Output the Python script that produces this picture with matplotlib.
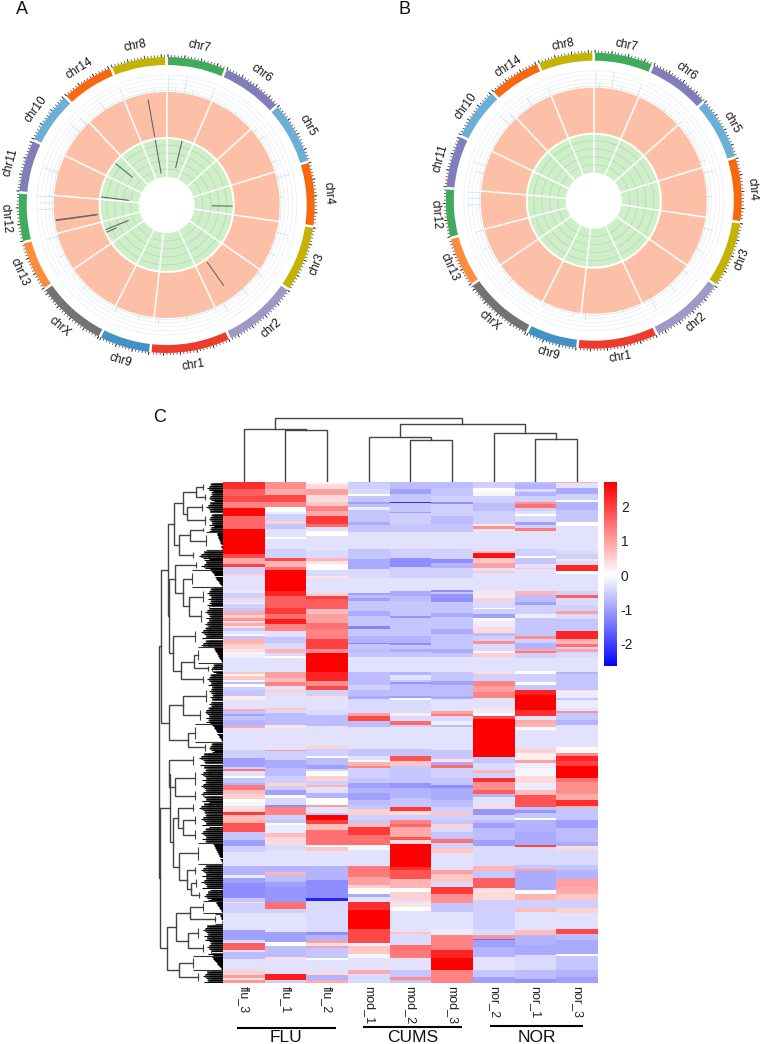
import numpy as np
import matplotlib
matplotlib.use("Agg")
import matplotlib.pyplot as plt

plt.rcParams['font.family'] = ['Liberation Sans', 'DejaVu Sans']

W, H = 760, 1044

# circos sectors, clockwise from the top
chr_names = ['chr7', 'chr6', 'chr5', 'chr4', 'chr3', 'chr2', 'chr1', 'chr9', 'chrX', 'chr13', 'chr12', 'chr11', 'chr10', 'chr14', 'chr8']
chr_spans = [23.5, 24.5, 25, 25.4, 26.3, 30, 31.7, 20.5, 28.5, 20, 19.5, 21, 21, 21, 22]
chr_colors = ['#41ab5d', '#807dba', '#6baed6', '#f8690f', '#c4b305', '#9e9ac8', '#ef3b2c', '#4292c6', '#737373',
              '#fd8d3c', '#41ab5d', '#807dba', '#6baed6', '#f8690f', '#c4b305']

# blue track spikes (angle, height)
spike_a_theta = [1, 9, 4.5, 22.6, 13, 350, 354, 338, 327, 310, 315, 287, 286, 274, 271, 274.5, 268, 254, 244, 225, 206, 194, 184, 170, 155, 150, 138, 127, 115, 104, 86, 76, 68, 55, 50, 37]
spike_a_h = [17, 17, 8, 13, 5, 3, 4, 13, 10, 12, 10, 15, 10, 17, 13, 7, 16, 12, 7, 8, 6, 6, 7, 4, 5, 10, 8, 8, 7, 12, 5, 15, 6, 8, 5, 4]
spike_b_theta = [1, 9, 3, 22.6, 14, 352, 338, 327, 312, 316, 288, 284, 274, 271, 268, 255, 246, 226, 206, 190, 184, 165, 150, 138, 128, 115, 104, 88, 76, 70, 55, 48, 38]
spike_b_h = [17, 17, 7, 13, 5, 4, 10, 10, 9, 8, 13, 9, 14, 12, 13, 10, 8, 6, 5, 4, 7, 3, 12, 9, 7, 6, 9, 5, 12, 7, 7, 6, 4]

# dark spikes on panel A
dark_theta = [350, 350, 262, 262.3, 144.7, 13.5, 309, 277, 91, 248, 245.6]
dark_low = [69, 32, 70, 70, 70, 38, 44, 38, 45, 41, 55]
dark_high = [107, 66, 112, 112, 99, 66, 66, 66, 66, 66, 66]

# heatmap runs (z score, run length), each column top to bottom
flu_3 = [(2.2,24),(1.7,20),(1.9,20),(1.3,18),(2.6,22),(1.6,40),(2.7,75),(1.9,10),(0.9,18),(2.0,9),(-0.5,23),(0.5,5),(-0.3,45),(0.3,5),(-0.5,15),(0.5,5),(-0.3,12),(0.2,3),(-0.5,10),(-0.6,10),(0.9,12),(0.5,9),(1.1,9),(0.4,6),(0.9,9),(0.3,5),(-0.6,10),(-0.3,10),(0.1,5),(-0.6,10),(0.8,15),(0.5,15),
         (0.3,10),(0,5),(-0.2,10),(-0.3,43),(0.6,4),(0.1,8),(0.6,10),(-0.1,7),(-0.7,6),(0,9),(-0.5,10),(-0.6,18),(0.2,10),(-0.3,28),(0.9,6),(-0.6,8),(-1,6),(-0.6,14),(-0.8,16),(0.9,7),(-0.3,65),(-0.5,25),(-1,27),(-0.5,6),(1.5,6),(-0.3,14),(0,7),(-0.6,15),(-0.8,5),(1.4,15),(0.7,12),(0.5,15),(0,8),(-0.1,12),(0.4,20),(2.1,8),(0.7,15),
         (0.8,10),(1.8,25),(-0.6,25),(-1,18),(-0.5,17),(-0.3,43),(-0.8,27),(-0.2,10),(-1,15),(-1.2,45),(-0.6,10),(0.4,5),(-0.5,30),(-0.3,50),(-1,28),(-0.4,10),(1.7,20),(-0.3,7),(-0.7,20),(-0.3,35),(0.5,15),(1,7),(0.3,8),(1.1,8)]
flu_1 = [(1.2,24),(0.9,18),(1.9,22),(1.3,14),(0,16),(-0.2,5),(-0.5,20),(0.5,10),(-0.6,15),(-0.3,25),(0,5),(-0.3,30),(-0.5,25),(1.9,10),(0.8,17),(1.5,10),(2.7,63),(2.3,15),(1.7,35),(2.1,20),(1.5,13),(2.4,17),(1.3,20),(-0.3,17),(-0.6,18),(-0.4,20),
         (0.8,10),(-0.4,10),(0,5),(-0.3,43),(1,17),(0.7,12),(1.3,13),(-0.3,10),(0.5,10),(-0.3,45),(0.6,5),(-0.4,10),(-0.7,35),(0.3,10),(-0.3,65),(1.1,5),(-0.5,25),(-0.9,25),(-0.7,25),(-0.5,20),(0.5,8),(-0.5,12),(-1,15),(0,10),(-0.4,20),(-1.2,7),(1.3,23),(-0.5,15),
         (-0.6,8),(0,6),(-0.2,26),(0.7,12),(0.4,23),(-0.4,15),(-0.3,48),(-0.8,17),(0.8,10),(-0.7,20),(-1,15),(-1.1,45),(1.5,23),(-0.5,12),(-0.3,55),(-1,30),(0,13),(-0.7,32),(0.4,5),(-0.3,45),(2.4,18),(-0.5,10)]
flu_2 = [(0.1,9),(0.4,15),(1.0,18),(0.4,20),(0.6,14),(1.3,13),(0.9,17),(2.1,23),(1.6,10),(-0.3,10),(0,15),(-0.3,45),(-0.4,20),(0.8,10),(0.3,10),(0,17),(-0.4,18),(0.3,5),(-0.3,45),(0.5,10),(2.0,10),(1.7,30),(0.7,15),(1.0,25),(1.5,20),(1.3,28),(2.0,32),
         (1.2,10),(2.7,58),(2.3,27),(1.2,15),(1.9,12),(-0.5,16),(0.4,8),(-0.3,34),(-0.4,15),(-0.7,35),(-0.3,60),(0.5,8),(-0.5,20),(0,8),(-0.7,19),(-1,13),(-0.5,7),(0,15),(0.5,15),(-0.5,10),(0.8,7),(-0.3,18),(-0.8,15),(0,20),(1,7),(-0.3,18),(-0.6,5),(2.7,15),
         (2,12),(0.7,18),(1.5,45),(-0.1,7),(0.6,10),(-0.3,46),(-0.8,42),(-1.2,55),(-2.3,8),(-0.4,92),(-1.2,10),(-0.8,13),(1,10),(-0.3,10),(1,4),(-0.6,30),(0,6),(-0.3,37),(0.4,10),(-0.8,13),(0.9,10)]
mod_1 = [(-0.6,6),(-0.5,18),(-0.4,15),(0,5),(-0.6,20),(-1,5),(-0.7,10),(-0.2,7),(-0.6,38),(-0.9,8),(-0.6,22),(-0.3,50),(-0.6,28),(-0.9,32),(-0.4,25),(-0.3,45),(-1,8),(-0.7,8),(-1,9),(-0.6,30),(-0.9,15),(-0.6,30),(-1.3,10),(-0.6,20),(-0.8,20),(-1.3,5),(-0.6,15),
         (-0.7,10),(-0.6,12),(-0.3,44),(-0.7,39),(-0.5,15),(-0.7,18),(-0.9,10),(-0.4,42),(1,8),(1.9,17),(-0.7,17),(-0.3,66),(-0.6,22),(-0.3,10),(0.1,8),(0.8,10),(1.3,7),(-0.5,30),(-0.6,15),(-1,15),(-0.8,15),(-1,20),(-0.7,15),(-0.6,13),(0.5,17),(-0.5,15),
         (-0.6,10),(0.7,12),(2.1,23),(1.5,30),(0.1,15),(-0.3,48),(1.4,32),(1,25),(0.5,10),(0,17),(-0.9,10),(-0.3,13),(2.2,25),(2.7,55),(1.9,43),(-0.2,10),(0.6,22),(-0.1,12),(-0.3,38),(0.9,10),(-0.4,28)]
mod_2 = [(-0.7,24),(-1,15),(-0.6,23),(-2.2,4),(-0.6,26),(-1,5),(-0.5,32),(-0.6,25),(-0.3,50),(-0.5,25),(-1.2,27),(-0.5,33),(-0.3,40),(-0.9,15),(-0.7,15),(-0.6,45),(-1.1,5),(-0.6,55),(-0.8,20),(-1.2,6),(-0.6,14),
         (-0.9,8),(-0.6,14),(-0.3,44),(-0.8,9),(-0.3,15),(-0.6,7),(-1.1,6),(-0.7,35),(-1,7),(0,5),(-0.4,40),(0.2,8),(-0.4,17),(1.6,10),(-0.5,7),(-0.3,66),(-0.6,22),(1.8,15),(0.6,15),(-0.6,50),(-1.1,15),(-0.8,30),(-0.6,27),(2.1,11),(0.4,12),(-0.5,15),
         (1.3,12),(1.6,10),(0.9,28),(1.8,10),(0.4,12),(2.7,68),(2.2,10),(1.8,28),(0.8,27),(0,10),(0.5,25),(-0.3,10),(0.3,12),(0,10),(-0.3,63),(0.6,7),(-0.4,33),(1.5,15),(1.4,22),(-0.3,36),(-0.6,22),(1.2,8),(-0.6,10)]
mod_3 = [(-0.7,22),(-0.6,24),(-0.5,16),(-1.2,8),(-0.5,34),(-0.7,25),(-0.6,25),(-0.3,50),(-0.5,28),(-1.2,12),(-0.8,15),(-0.5,30),(-0.3,37),(-1.2,6),(-0.6,7),(-1.1,10),(-1.2,13),(-0.6,32),(-0.9,12),(-0.6,38),(-0.9,15),(-0.6,45),
         (-0.9,10),(-0.6,12),(-0.3,44),(-0.6,29),(-1,10),(-0.7,35),(-0.9,8),(-0.3,37),(1,7),(1.4,8),(-0.4,15),(-0.2,10),(-0.7,7),(-0.3,68),(-0.6,28),(0.3,10),(-0.9,8),(1.6,9),(-0.5,30),(-0.6,20),(-1.2,10),(-0.9,35),(-0.7,20),(-0.5,15),(0.6,10),(-0.5,15),
         (-0.6,12),(0.5,8),(-0.4,15),(-0.6,23),(1.5,10),(-0.5,17),(0.6,13),(-0.3,52),(1,12),(0.6,23),(-0.4,15),(2.1,22),(1.2,26),(-0.6,27),(-0.3,50),(-0.2,20),(1.3,43),(2.3,24),(2.7,38),(1.3,38)]
nor_2 = [(-0.5,22),(0,10),(-0.1,12),(-0.5,22),(-0.7,23),(-0.5,40),(0.2,7),(1.2,8),(0.3,5),(-0.3,60),(0.7,7),(2.5,15),(0.6,13),(1,15),(-0.3,10),(0.6,5),(-0.3,55),(0.3,10),(-0.2,10),(0.5,10),(-0.4,20),(0,5),(-0.5,15),(-1,10),(0.1,10),(-0.2,17),(0.4,18),(-0.7,10),(-0.5,15),(1.2,10),(-0.4,15),
         (-0.4,6),(0.1,6),(0.5,10),(-0.3,44),(0.4,6),(-0.5,23),(1.3,15),(1,18),(1.3,17),(-0.3,30),(0.3,5),(-0.2,10),(0,10),(1.9,8),(2.7,114),(-0.6,18),(-0.4,22),(0.8,8),(-0.5,15),(2.2,13),(1.2,22),(1.7,12),(-0.8,10),(-0.3,23),(0.4,13),(-1.1,17),(-0.5,15),
         (-0.7,10),(-1,15),(-0.7,35),(-1,18),(-0.4,60),(0.8,14),(-0.6,23),(1.7,30),(0.3,10),(0.4,25),(-0.5,85),(-0.4,20),(1.1,10),(-1.5,3),(-1,22),(-0.8,30),(-0.3,40),(-0.6,20),(-1,18)]
nor_1 = [(-0.7,9),(-0.8,15),(-0.4,10),(-0.8,10),(-0.5,18),(1.1,7),(1.5,13),(-0.5,7),(-0.3,10),(0,7),(-0.4,18),(-1,8),(-0.5,8),(1.4,9),(-0.3,55),(-0.5,20),(0,5),(-0.6,20),(-0.3,10),(0.6,5),(-0.3,65),(0.8,13),(-0.7,20),(-1,10),(-0.5,27),(-0.2,10),(-0.6,55),(1.2,8),(-0.5,12),(-0.8,20),
         (0.9,6),(1.4,6),(-0.5,13),(-0.3,40),(0,7),(-0.5,26),(0,7),(-0.6,17),(2.3,13),(2.7,45),(2.2,20),(-0.3,12),(0.9,8),(0.8,12),(0,8),(-0.3,58),(0.5,12),(0.2,20),(1,10),(-0.2,15),(-0.1,23),(0.4,22),(-0.2,20),(0.7,15),(1.8,35),(-0.7,10),(-1.1,10),(-0.6,15),(0,5),
         (-0.8,35),(-0.9,40),(2,7),(-0.4,53),(-0.6,13),(1,4),(-0.9,58),(0,12),(0.8,18),(-0.5,25),(0.7,10),(-0.3,55),(0.7,15),(-0.8,30),(-0.9,30),(-0.4,45),(-0.7,25),(-1.1,13)]
nor_3 = [(0.8,6),(-0.3,16),(-0.9,17),(-0.5,17),(0,8),(-0.8,22),(-0.6,38),(0,12),(-0.3,73),(-0.4,10),(-0.5,13),(0.3,7),(-0.4,13),(2.3,17),(0,10),(-0.3,50),(-0.5,13),(1.7,7),(-0.4,23),(-0.5,17),(1,10),(-0.4,13),(-0.6,37),(2.3,23),(0.8,17),(1.5,7),(-0.5,8),
         (1,8),(-0.4,14),(-0.3,44),(-0.8,6),(-0.6,48),(0.4,5),(-0.2,20),(-0.6,5),(-0.2,25),(-0.3,10),(1.2,5),(-0.6,20),(-0.8,15),(-0.3,67),(0.1,18),(1.2,10),(2.3,15),(2,15),(2.7,35),(1.5,13),(1.2,34),(0.9,18),(2.2,18),(0.8,7),(-0.6,35),
         (-1,25),(-0.7,40),(-0.9,13),(0.4,12),(-0.4,45),(-0.6,15),(-0.8,28),(1,22),(0.9,22),(0.6,18),(-0.5,25),(0.5,13),(-0.3,47),(1.9,15),(-0.7,20),(-0.9,40),(0,8),(-0.6,42),(-0.8,20),(-1,18)]

samples = ['flu_3', 'flu_1', 'flu_2', 'mod_1', 'mod_2', 'mod_3', 'nor_2', 'nor_1', 'nor_3']
columns = [flu_3, flu_1, flu_2, mod_1, mod_2, mod_3, nor_2, nor_1, nor_3]
cbar_ticks = [2, 1, 0, -1, -2]

# column tree: [height, left, right], leaves index samples
col_tree = [63.7, [53, 0, [52, 1, 2]],
            [57.7, [45, 3, [41.7, 4, 5]], [48.7, 6, [43, 7, 8]]]]

# row tree: [depth, upper, lower]; (rows, depth) is a dense leaf block,
# (rows, depth, 'stair') a block of near identical rows
row_tree = [64,
    [62,
        [55,
            [49,
                [40, [27, (10, 20), (9, 18)], [36, (11, 21), (14, 18)]],
                [44, [33, (4, 20), (18, 17, 'stair')], (10, 30)]],
            [54,
                [48, (9, 27), [40, (17, 31, 'stair'), [34, (18, 20), (20, 22)]]],
                [50, (19, 28), [42, [29, (17, 25, 'stair'), (9, 15)], (12, 20)]]]],
        [54, [40, (20, 17), (17, 23)], [35, (18, 28, 'stair'), (10, 18)]]],
    [63,
        [53,
            [54, (15, 30), [48, (20, 28), (13, 28)]],
            [50,
                [45, (11, 30), [40, (13, 28), (15, 28)]],
                [44, (21, 25, 'stair'), [36, (12, 28), [32, (13, 27), (10, 24)]]]]],
        [56,
            [47, [33, (13, 20, 'stair'), (10, 8, 'stair')], [35, (17, 25), (13, 20)]],
            [44, (15, 30, 'stair'), (12, 25)]]]]

comb_pattern = [0.62, 0.8, 0.68, 0.9, 0.72, 1.0, 0.66, 0.85, 0.6, 0.78, 0.7, 0.95]


def px_axes(fig, x0, y0, x1, y1, **kw):
    # axes from pixel corners, y measured from the top of the picture
    return fig.add_axes([x0 / W, 1 - y1 / H, (x1 - x0) / W, (y1 - y0) / H], **kw)


def draw_circos(fig, cx, cy, spike_theta, spike_h, label_r, darks=None):
    rmax = 175
    ax = px_axes(fig, cx - rmax, cy - rmax, cx + rmax, cy + rmax, projection='polar')
    ax.set_theta_zero_location('N')
    ax.set_theta_direction(-1)
    ax.set_ylim(0, rmax)
    ax.axis('off')

    gap = 1.0
    start = 0
    for name, span, color in zip(chr_names, chr_spans, chr_colors):
        t0 = np.radians(start + gap / 2)
        t1 = np.radians(start + span - gap / 2)
        mid = (t0 + t1) / 2
        width = t1 - t0
        full = np.radians(span)
        mid_full = np.radians(start + span / 2)
        ax.bar(mid, 8, width=width, bottom=140, color=color, lw=0)
        ax.bar(mid_full, 45, width=full, bottom=68, color='#fdc0a6', lw=0)
        ax.bar(mid_full, 38, width=full, bottom=28, color='#cdefc6', lw=0)
        arc = np.linspace(t0, t1, 40)
        for r in [117.7, 121.7, 125.7, 130]:
            ax.plot(arc, np.full(40, r), color='#e6edf2', lw=0.5)
        for r in [76, 85, 94, 103]:
            ax.plot(arc, np.full(40, r), color='#efc0ac', lw=0.5)
        for r in [36, 44, 52, 60]:
            ax.plot(arc, np.full(40, r), color='#bdd3c6', lw=0.6)
        ax.plot(arc, np.full(40, 114.5), color='#d5e6f1', lw=0.5)

        ticks = np.arange(t0, t1, np.radians(1.3))
        ax.vlines(ticks, 148, 150, color='#333333', lw=0.5)
        ax.vlines(ticks[::5], 148, 151, color='#333333', lw=0.6)

        deg = start + span / 2
        rot = 180 - deg if 90 < deg < 270 else -deg
        ax.text(mid, label_r, name, fontsize=8.5, rotation=rot, rotation_mode='anchor',
                ha='center', va='center', color='#111111')
        # white divider of even width between the sectors
        ax.vlines(np.radians(start), 28, 114, color='white', lw=1.1)
        start += span

    ax.vlines(np.radians(spike_theta), 113, 113 + np.array(spike_h), color='#c3dcec', lw=0.45)
    if darks is not None:
        ax.vlines(np.radians(darks[0]), darks[1], darks[2], color='#666666', lw=0.8)
    return ax


def draw_col_tree(ax, node):
    if not isinstance(node, list):
        return node + 0.5, 0
    x0, h0 = draw_col_tree(ax, node[1])
    x1, h1 = draw_col_tree(ax, node[2])
    h = node[0]
    ax.plot([x0, x0, x1, x1], [h0, h, h, h1], color='#444444', lw=1.0, solid_joinstyle='miter')
    return (x0 + x1) / 2, h


def draw_row_leaf(ax, leaf, top):
    rows, depth = leaf[0], leaf[1]
    ys = top + np.arange(rows) + 0.5
    if len(leaf) == 3:
        lengths = 0.4 * depth * (1 - np.arange(rows) / rows)
        ax.hlines(ys, 0, lengths, color='black', lw=0.8)
        ax.hlines([top + 0.5, top + rows - 0.5], 0, depth, color='#333333', lw=0.8)
    else:
        lengths = depth * np.array([comb_pattern[i % len(comb_pattern)] for i in range(rows)])
        ax.hlines(ys, 0, lengths * 0.8, color='black', lw=0.8)
        # small brackets of the finest merges
        for i in range(0, rows - 2, 4):
            ax.plot([0, lengths[i], lengths[i], 0], [ys[i], ys[i], ys[i + 2], ys[i + 2]], color='#444444', lw=0.6)
    ax.vlines(depth, top + rows * 0.2, top + rows * 0.8, color='#444444', lw=0.8)
    return top + rows / 2, depth


def draw_row_tree(ax, node, top):
    if not isinstance(node, list):
        c, d = draw_row_leaf(ax, node, top)
        return c, d, top + node[0]
    c0, d0, top = draw_row_tree(ax, node[1], top)
    c1, d1, top = draw_row_tree(ax, node[2], top)
    d = node[0]
    ax.plot([d0, d, d, d1], [c0, c0, c1, c1], color='#444444', lw=1.0, solid_joinstyle='miter')
    return (c0 + c1) / 2, d, top


def count_rows(node):
    if not isinstance(node, list):
        return node[0]
    return count_rows(node[1]) + count_rows(node[2])


fig = plt.figure(figsize=(W / 100, H / 100), dpi=100)

draw_circos(fig, 166.7, 205, spike_a_theta, spike_a_h, 162, (dark_theta, dark_low, dark_high))
draw_circos(fig, 593.8, 200.7, spike_b_theta, spike_b_h, 159)

# heatmap
n_fine = 1502
matrix = []
for col in columns:
    vals = np.repeat([v for v, n in col], [n for v, n in col])
    matrix.append(vals[np.linspace(0, len(vals) - 1, n_fine).astype(int)])
matrix = np.array(matrix).T

ax_heat = px_axes(fig, 223, 482, 597.7, 983)
ax_heat.imshow(matrix, cmap='bwr', vmin=-2.7, vmax=2.7, aspect='auto', interpolation='nearest',
               extent=[0, len(samples), n_fine, 0])
ax_heat.set_xticks(np.arange(len(samples)) + 0.5)
ax_heat.set_xticklabels(samples, rotation=270, fontsize=9, color='#222222')
ax_heat.tick_params(axis='x', length=0, pad=2.5)
ax_heat.set_yticks([])
for s in ax_heat.spines.values():
    s.set_visible(False)

# column dendrogram
ax_top = px_axes(fig, 223, 405, 597.7, 482)
ax_top.set_xlim(0, len(samples))
ax_top.set_ylim(0, 77)
draw_col_tree(ax_top, col_tree)
ax_top.axis('off')

# row dendrogram
ax_left = px_axes(fig, 155, 482, 223, 983)
ax_left.set_xlim(68, 0)
ax_left.set_ylim(count_rows(row_tree), 0)
draw_row_tree(ax_left, row_tree, 0)
ax_left.axis('off')

# colour bar
ax_bar = px_axes(fig, 603.5, 482, 616, 666)
grad = np.linspace(2.7, -2.64, 256).reshape(-1, 1)
ax_bar.imshow(grad, cmap='bwr', vmin=-2.7, vmax=2.7, aspect='auto', extent=[0, 1, -2.64, 2.7])
ax_bar.set_xticks([])
ax_bar.yaxis.tick_right()
ax_bar.set_yticks(cbar_ticks)
ax_bar.set_yticklabels([str(t) for t in cbar_ticks], fontsize=10, color='#222222')
ax_bar.tick_params(axis='y', length=0, pad=3.5)
for s in ax_bar.spines.values():
    s.set_visible(False)

# panel letters and group bars, in picture pixels
ov = fig.add_axes([0, 0, 1, 1])
ov.set_xlim(0, W)
ov.set_ylim(H, 0)
ov.axis('off')
ov.patch.set_alpha(0)
for letter, x, y in [('A', 22, 9), ('B', 405, 9), ('C', 159.5, 418)]:
    ov.text(x, y, letter, fontsize=13, ha='center', va='center', color='#111111')
for label, x0, x1, y in [('FLU', 236.7, 335.7, 1027.7), ('CUMS', 362.7, 461.7, 1027), ('NOR', 490, 583, 1026)]:
    ov.plot([x0, x1], [y, y], color='black', lw=1.5, solid_capstyle='butt')
    ov.text((x0 + x1) / 2, 1037.5, label, fontsize=12.5, ha='center', va='center', color='#111111')

fig.savefig('out.png', dpi=100)
